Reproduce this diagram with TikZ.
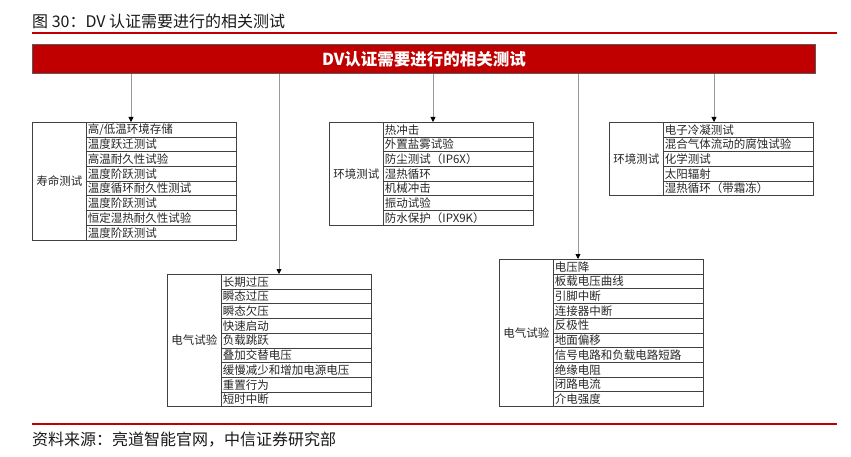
\documentclass[tikz,border=0pt]{standalone}
\usepackage{fontspec}
\setmainfont{Noto Sans CJK SC}
\usetikzlibrary{arrows.meta}

\definecolor{citicred}{HTML}{C00000}
\definecolor{boxline}{HTML}{404040}

% one table: name, left x, top y, rows, label, items
\newcommand{\testbox}[6]{%
  \node[lab, minimum height=#4*14.7pt] (#1) at (#2,#3) {#5};
  \foreach \txt [count=\k] in {#6}
    \node[row] (#1-\k) at (#2+54,{#3+(\k-1)*14.7}) {\txt};
}

\begin{document}
\begin{tikzpicture}[x=1pt, y=-1pt,
    lab/.style={draw=boxline, line width=0.8pt, anchor=north west, minimum width=54pt,
      inner sep=0pt, font=\fontsize{11.5}{13}\selectfont, text=black!85},
    row/.style={draw=boxline, line width=0.8pt, anchor=north west, minimum height=14.7pt,
      text width=147pt, inner xsep=1.5pt, inner ysep=0pt, align=left,
      font=\fontsize{11.5}{13}\selectfont, text=black!85},
    arr/.style={draw=black!40, line width=0.8pt, -{Triangle[length=5pt, width=5pt, color=black]}}]
  \useasboundingbox (0,0) rectangle (851,457);

  % Titolo e fonte
  \node (title) at (32,21) [anchor=west, inner sep=0pt, font=\fontsize{16}{18}\selectfont, text=black!90] {图 30：DV 认证需要进行的相关测试};
  \draw[citicred, line width=1.2pt] (32,33) -- (837,33);
  \draw[citicred, line width=1.2pt] (32,424) -- (837,424);
  \node (source) at (32,440) [anchor=west, inner sep=0pt, font=\fontsize{16}{18}\selectfont, text=black!90] {资料来源：亮道智能官网，中信证券研究部};

  % Intestazione
  \node (banner) at (32,44) [anchor=north west, minimum width=783pt, minimum height=29pt,
    fill=citicred, draw=black!65, line width=1pt, text=white,
    font=\bfseries\fontsize{16.5}{18}\selectfont] {DV认证需要进行的相关测试};

  % Tabelle
  \testbox{life}{32}{122}{8}{寿命测试}{{高/低温环境存储}, 温度跃迁测试, 高温耐久性试验, 温度阶跃测试,
    温度循环耐久性测试, 温度阶跃测试, 恒定湿热耐久性试验, 温度阶跃测试}
  \testbox{envA}{329}{122}{7}{环境测试}{热冲击, 外置盐雾试验, 防尘测试（IP6X）, 湿热循环,
    机械冲击, 振动试验, 防水保护（IPX9K）}
  \testbox{envB}{609}{122}{5}{环境测试}{电子冷凝测试, 混合气体流动的腐蚀试验, 化学测试, 太阳辐射,
    湿热循环（带霜冻）}
  \testbox{elecA}{167}{274}{9}{电气试验}{长期过压, 瞬态过压, 瞬态欠压, 快速启动, 负载跳跃,
    叠加交替电压, 缓慢减少和增加电源电压, 重置行为, 短时中断}
  \testbox{elecB}{499}{259}{10}{电气试验}{电压降, 板载电压曲线, 引脚中断, 连接器中断, 反极性,
    地面偏移, 信号电路和负载电路短路, 绝缘电阻, 闭路电流, 介电强度}

  % Collegamenti
  \coordinate (inLife) at (131,122);
  \coordinate (inElecA) at (279,274);
  \coordinate (inEnvA) at (433,122);
  \coordinate (inElecB) at (578,259);
  \coordinate (inEnvB) at (714,122);
  \draw[arr] (banner.south -| inLife) -- (inLife);
  \draw[arr] (banner.south -| inElecA) -- (inElecA);
  \draw[arr] (banner.south -| inEnvA) -- (inEnvA);
  \draw[arr] (banner.south -| inElecB) -- (inElecB);
  \draw[arr] (banner.south -| inEnvB) -- (inEnvB);
\end{tikzpicture}
\end{document}
